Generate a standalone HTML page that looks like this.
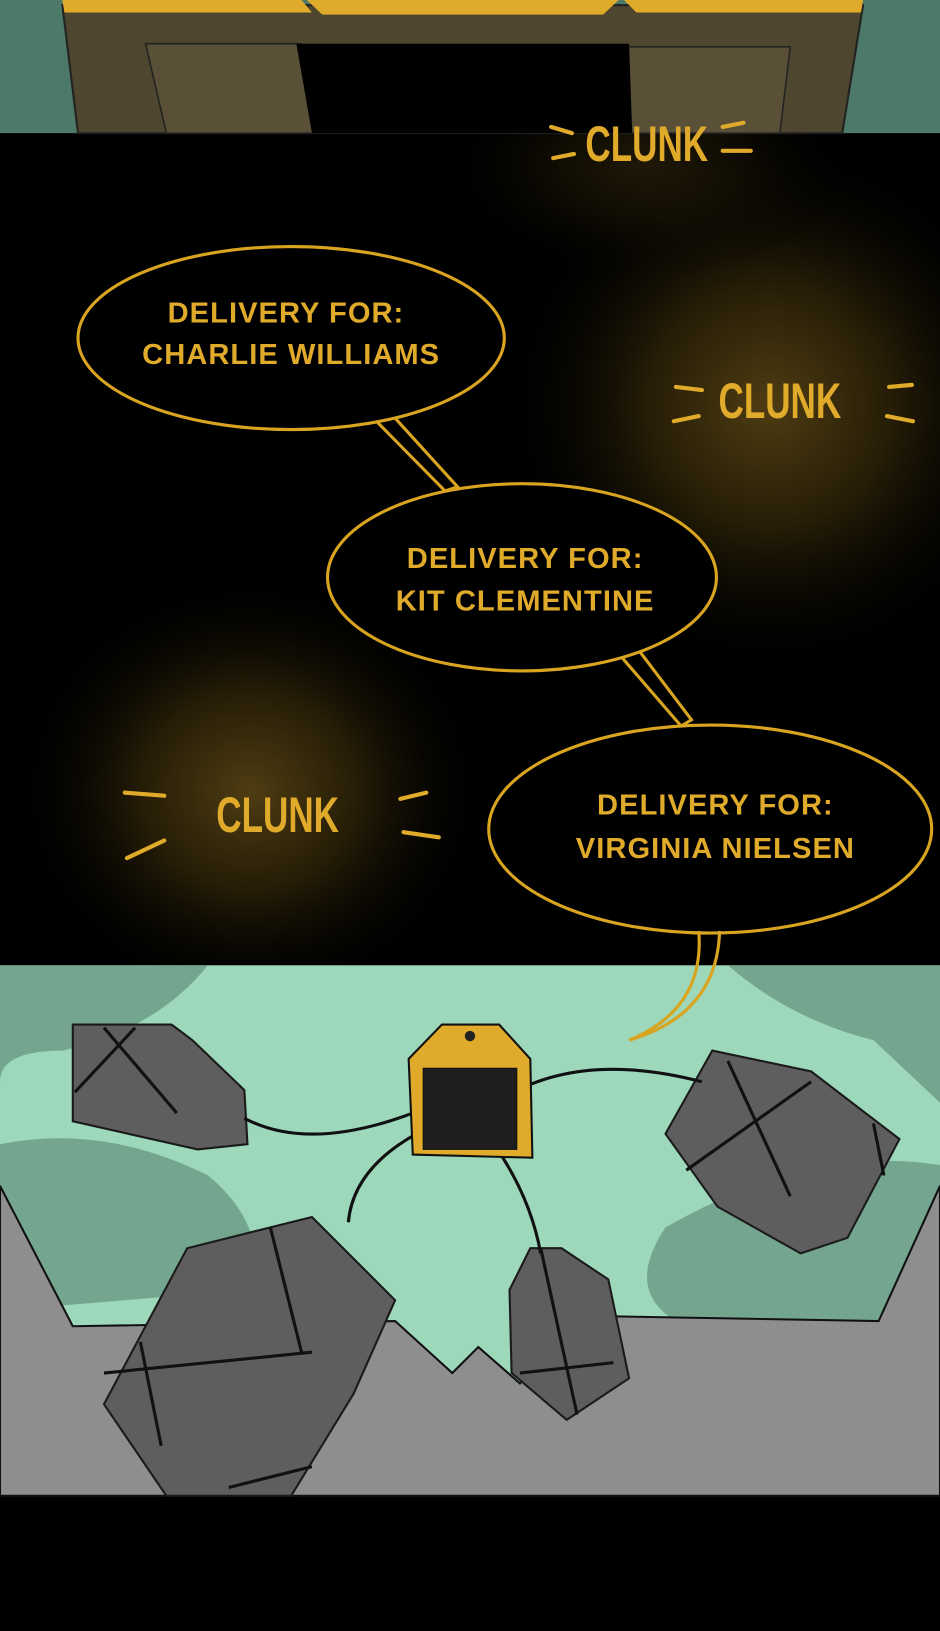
<!DOCTYPE html>
<html><head><meta charset="utf-8"><style>
html,body{margin:0;padding:0;background:#000}
svg{display:block}
</style></head><body>
<svg width="940" height="1631" viewBox="0 0 904 1568" preserveAspectRatio="none" xmlns="http://www.w3.org/2000/svg">
<defs>
<radialGradient id="g1" cx="0.5" cy="0.5" r="0.5"><stop offset="0" stop-color="#4e3c12"/><stop offset="0.45" stop-color="#261d07"/><stop offset="1" stop-color="#000" stop-opacity="0"/></radialGradient>
</defs>
<rect width="904" height="1568" fill="#000"/>
<!-- glows -->
<ellipse cx="740" cy="390" rx="260" ry="260" fill="url(#g1)"/>
<ellipse cx="240" cy="760" rx="230" ry="210" fill="url(#g1)"/>
<ellipse cx="620" cy="160" rx="200" ry="110" fill="url(#g1)" opacity="0.4"/>
<!-- top panel -->
<rect x="0" y="0" width="904" height="128" fill="#4d7a68"/>
<polygon points="60,5 830,5 810,128 75,128" fill="#4f4630" stroke="#222" stroke-width="2"/>
<polygon points="140,42 290,42 305,128 160,128" fill="#5a5038" stroke="#222" stroke-width="1.5"/>
<polygon points="600,45 760,45 750,128 605,128" fill="#5a5038" stroke="#222" stroke-width="1.5"/>
<polygon points="285,42 605,42 608,128 300,128" fill="#000"/>
<polygon points="60,0 290,0 300,12 62,12" fill="#e0aa2a"/>
<polygon points="295,0 595,0 580,14 310,14" fill="#e0aa2a"/>
<polygon points="600,0 830,0 828,12 612,12" fill="#e0aa2a"/>
<!-- bubbles -->
<g fill="#000" stroke="#d9a520" stroke-width="3">
<path d="M362,405 L428,472 L440,468 L380,402"/>
<ellipse cx="280" cy="325" rx="205" ry="88"/>
<path d="M598,632 L655,698 L665,692 L615,626"/>
<ellipse cx="502" cy="555" rx="187" ry="90"/>
<ellipse cx="683" cy="797" rx="213" ry="100"/>
</g>
<g font-family="Liberation Sans, sans-serif" font-weight="bold" fill="#e0aa2a" text-anchor="middle" font-size="28" letter-spacing="1">
<text x="275" y="310">DELIVERY FOR:</text>
<text x="280" y="350">CHARLIE WILLIAMS</text>
<text x="505" y="546">DELIVERY FOR:</text>
<text x="505" y="587">KIT CLEMENTINE</text>
<text x="688" y="783">DELIVERY FOR:</text>
<text x="688" y="825">VIRGINIA NIELSEN</text>
</g>
<g font-family="Liberation Sans Narrow, Liberation Sans, sans-serif" font-weight="bold" fill="#e0aa2a" text-anchor="middle" font-size="48">
<text x="622" y="155" textLength="118" lengthAdjust="spacingAndGlyphs">CLUNK</text>
<text x="750" y="402" textLength="118" lengthAdjust="spacingAndGlyphs">CLUNK</text>
<text x="267" y="800" textLength="118" lengthAdjust="spacingAndGlyphs">CLUNK</text>
</g>
<g stroke="#e0aa2a" stroke-width="4" stroke-linecap="round" fill="none">
<path d="M530,122 L550,128 M532,152 L552,148 M695,122 L715,118 M695,145 L722,145"/>
<path d="M650,372 L675,375 M648,405 L672,400 M855,372 L877,370 M853,400 L878,405"/>
<path d="M120,762 L158,765 M122,825 L158,808 M385,768 L410,762 M388,800 L422,805"/>
</g>
<!-- bottom panel -->
<rect x="0" y="928" width="904" height="510" fill="#9dd8bb"/>
<path d="M0,928 L200,928 Q150,990 60,1010 Q0,1010 0,1040 Z" fill="#6a9a84" opacity="0.8"/>
<path d="M0,1100 Q100,1080 200,1130 Q260,1180 240,1240 L0,1260 Z" fill="#6a9a84" opacity="0.8"/>
<path d="M904,928 L700,928 Q760,980 840,1000 L904,1060 Z" fill="#6a9a84" opacity="0.8"/>
<path d="M904,1120 Q780,1100 640,1180 Q600,1240 650,1270 L904,1270 Z" fill="#6a9a84" opacity="0.8"/>
<polygon points="0,1140 70,1275 380,1270 435,1320 460,1295 500,1330 560,1265 845,1270 904,1140 904,1438 0,1438" fill="#8e8e8e" stroke="#111" stroke-width="2"/>
<!-- 3rd bubble tail -->
<path d="M672,895 Q678,970 605,1000 Q690,975 692,895" fill="none" stroke="#d9a520" stroke-width="3"/>
<!-- boxes -->
<g fill="#5e5e5e" stroke="#1a1a1a" stroke-width="2">
<polygon points="70,985 165,985 185,1000 235,1048 238,1100 190,1105 70,1078"/>
<polygon points="640,1090 685,1010 780,1030 865,1095 815,1190 770,1205 690,1160"/>
<polygon points="100,1350 180,1200 300,1170 380,1250 340,1340 280,1438 160,1438"/>
<polygon points="490,1240 510,1200 540,1200 585,1230 605,1325 545,1365 492,1320"/>
</g>
<g stroke="#111" stroke-width="3" fill="none">
<path d="M100,988 L170,1070 M72,1050 L130,988 M700,1020 L760,1150 M660,1125 L780,1040 M840,1080 L850,1130 M135,1290 L155,1390 M100,1320 L300,1300 M220,1430 L300,1410 M260,1180 L290,1300 M520,1200 L555,1360 M500,1320 L590,1310"/>
<path d="M235,1075 Q300,1110 410,1065 M485,1055 Q560,1010 675,1040 M410,1085 Q340,1120 335,1175 M475,1100 Q510,1150 520,1205"/>
</g>
<polygon points="393,1018 425,985 480,985 510,1018 512,1113 397,1110" fill="#e0aa2a" stroke="#111" stroke-width="2"/>
<rect x="407" y="1027" width="90" height="78" fill="#1e1e1e" stroke="#111"/>
<circle cx="452" cy="996" r="5" fill="#222"/>
</svg>
</body></html>
